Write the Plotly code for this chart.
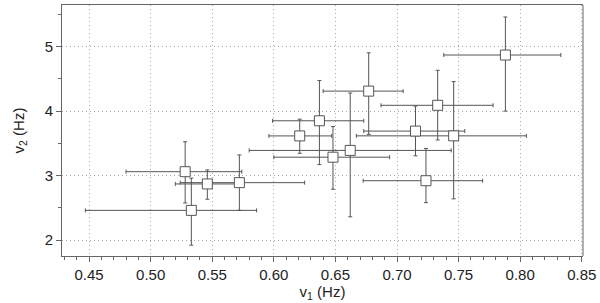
import plotly.graph_objects as go

# data
nu1 = [0.528, 0.546, 0.572, 0.533, 0.637, 0.621, 0.648, 0.662, 0.715, 0.733, 0.677, 0.746, 0.7235, 0.788]
nu2 = [3.06, 2.87, 2.89, 2.46, 3.85, 3.615, 3.285, 3.39, 3.69, 4.09, 4.31, 3.616, 2.92, 4.87]
nu1_err_minus = [0.048, 0.026, 0.048, 0.086, 0.038, 0.025, 0.048, 0.082, 0.042, 0.046, 0.037, 0.079, 0.051, 0.050]
nu1_err_plus = [0.046, 0.026, 0.053, 0.053, 0.036, 0.026, 0.046, 0.082, 0.040, 0.045, 0.028, 0.059, 0.046, 0.045]
nu2_err_minus = [0.485, 0.237, 0.43, 0.54, 0.68, 0.27, 0.496, 1.03, 0.383, 0.538, 0.671, 0.977, 0.34, 0.87]
nu2_err_plus = [0.465, 0.217, 0.43, 0.50, 0.625, 0.26, 0.475, 0.89, 0.388, 0.543, 0.594, 0.841, 0.50, 0.59]

x_ticks = [0.45, 0.50, 0.55, 0.60, 0.65, 0.70, 0.75, 0.80, 0.85]
x_ticklabels = ["0.45", "0.50", "0.55", "0.60", "0.65", "0.70", "0.75", "0.80", "0.85"]
y_ticks = [2, 3, 4, 5]

ERR_COL = "#555555"
AX_COL = "#666666"

fig = go.Figure()
fig.add_trace(go.Scatter(
    x=nu1, y=nu2, mode="markers",
    marker=dict(symbol="square", size=10, color="white",
                line=dict(color=ERR_COL, width=1)),
    error_x=dict(type="data", symmetric=False, array=nu1_err_plus,
                 arrayminus=nu1_err_minus, color=ERR_COL, thickness=1, width=2),
    error_y=dict(type="data", symmetric=False, array=nu2_err_plus,
                 arrayminus=nu2_err_minus, color=ERR_COL, thickness=1, width=2),
    showlegend=False,
))

font = dict(family="Liberation Sans, Arial, sans-serif", size=15, color="#222222")
GRID_DASH = "1px,3px"

fig.update_layout(
    width=600, height=303,
    margin=dict(l=62, r=17, t=5, b=47),
    plot_bgcolor="white", paper_bgcolor="white",
    font=font,
    xaxis=dict(
        range=[0.428, 0.851], tickvals=x_ticks, ticktext=x_ticklabels,
        showline=True, linecolor=AX_COL, linewidth=1, mirror=True,
        ticks="outside", ticklen=5, tickcolor=AX_COL,
        showgrid=True, gridcolor="#aaaaaa", griddash=GRID_DASH, gridwidth=1,
        zeroline=False,
        minor=dict(dtick=0.01, ticklen=3, tickcolor=AX_COL, ticks="outside", showgrid=False),
        title=dict(text="v<sub>1</sub> (Hz)", standoff=4, font=font),
    ),
    yaxis=dict(
        range=[1.752, 5.646], tickvals=y_ticks,
        showline=True, linecolor=AX_COL, linewidth=1, mirror=False,
        ticks="outside", ticklen=5, tickcolor=AX_COL,
        showgrid=True, gridcolor="#aaaaaa", griddash=GRID_DASH, gridwidth=1,
        zeroline=False,
        minor=dict(dtick=0.5, ticklen=3, tickcolor=AX_COL, ticks="outside", showgrid=False),
        title=dict(text="v<sub>2</sub> (Hz)", standoff=16, font=font),
    ),
    shapes=[dict(type="line", xref="paper", yref="paper", x0=1, x1=1, y0=0, y1=1,
                 line=dict(color="#b0b0b0", width=2))],
)

fig.write_html(
    "out.html",
    config={"displayModeBar": False},
    post_script="document.body.style.margin='0';document.body.style.padding='0';",
)
